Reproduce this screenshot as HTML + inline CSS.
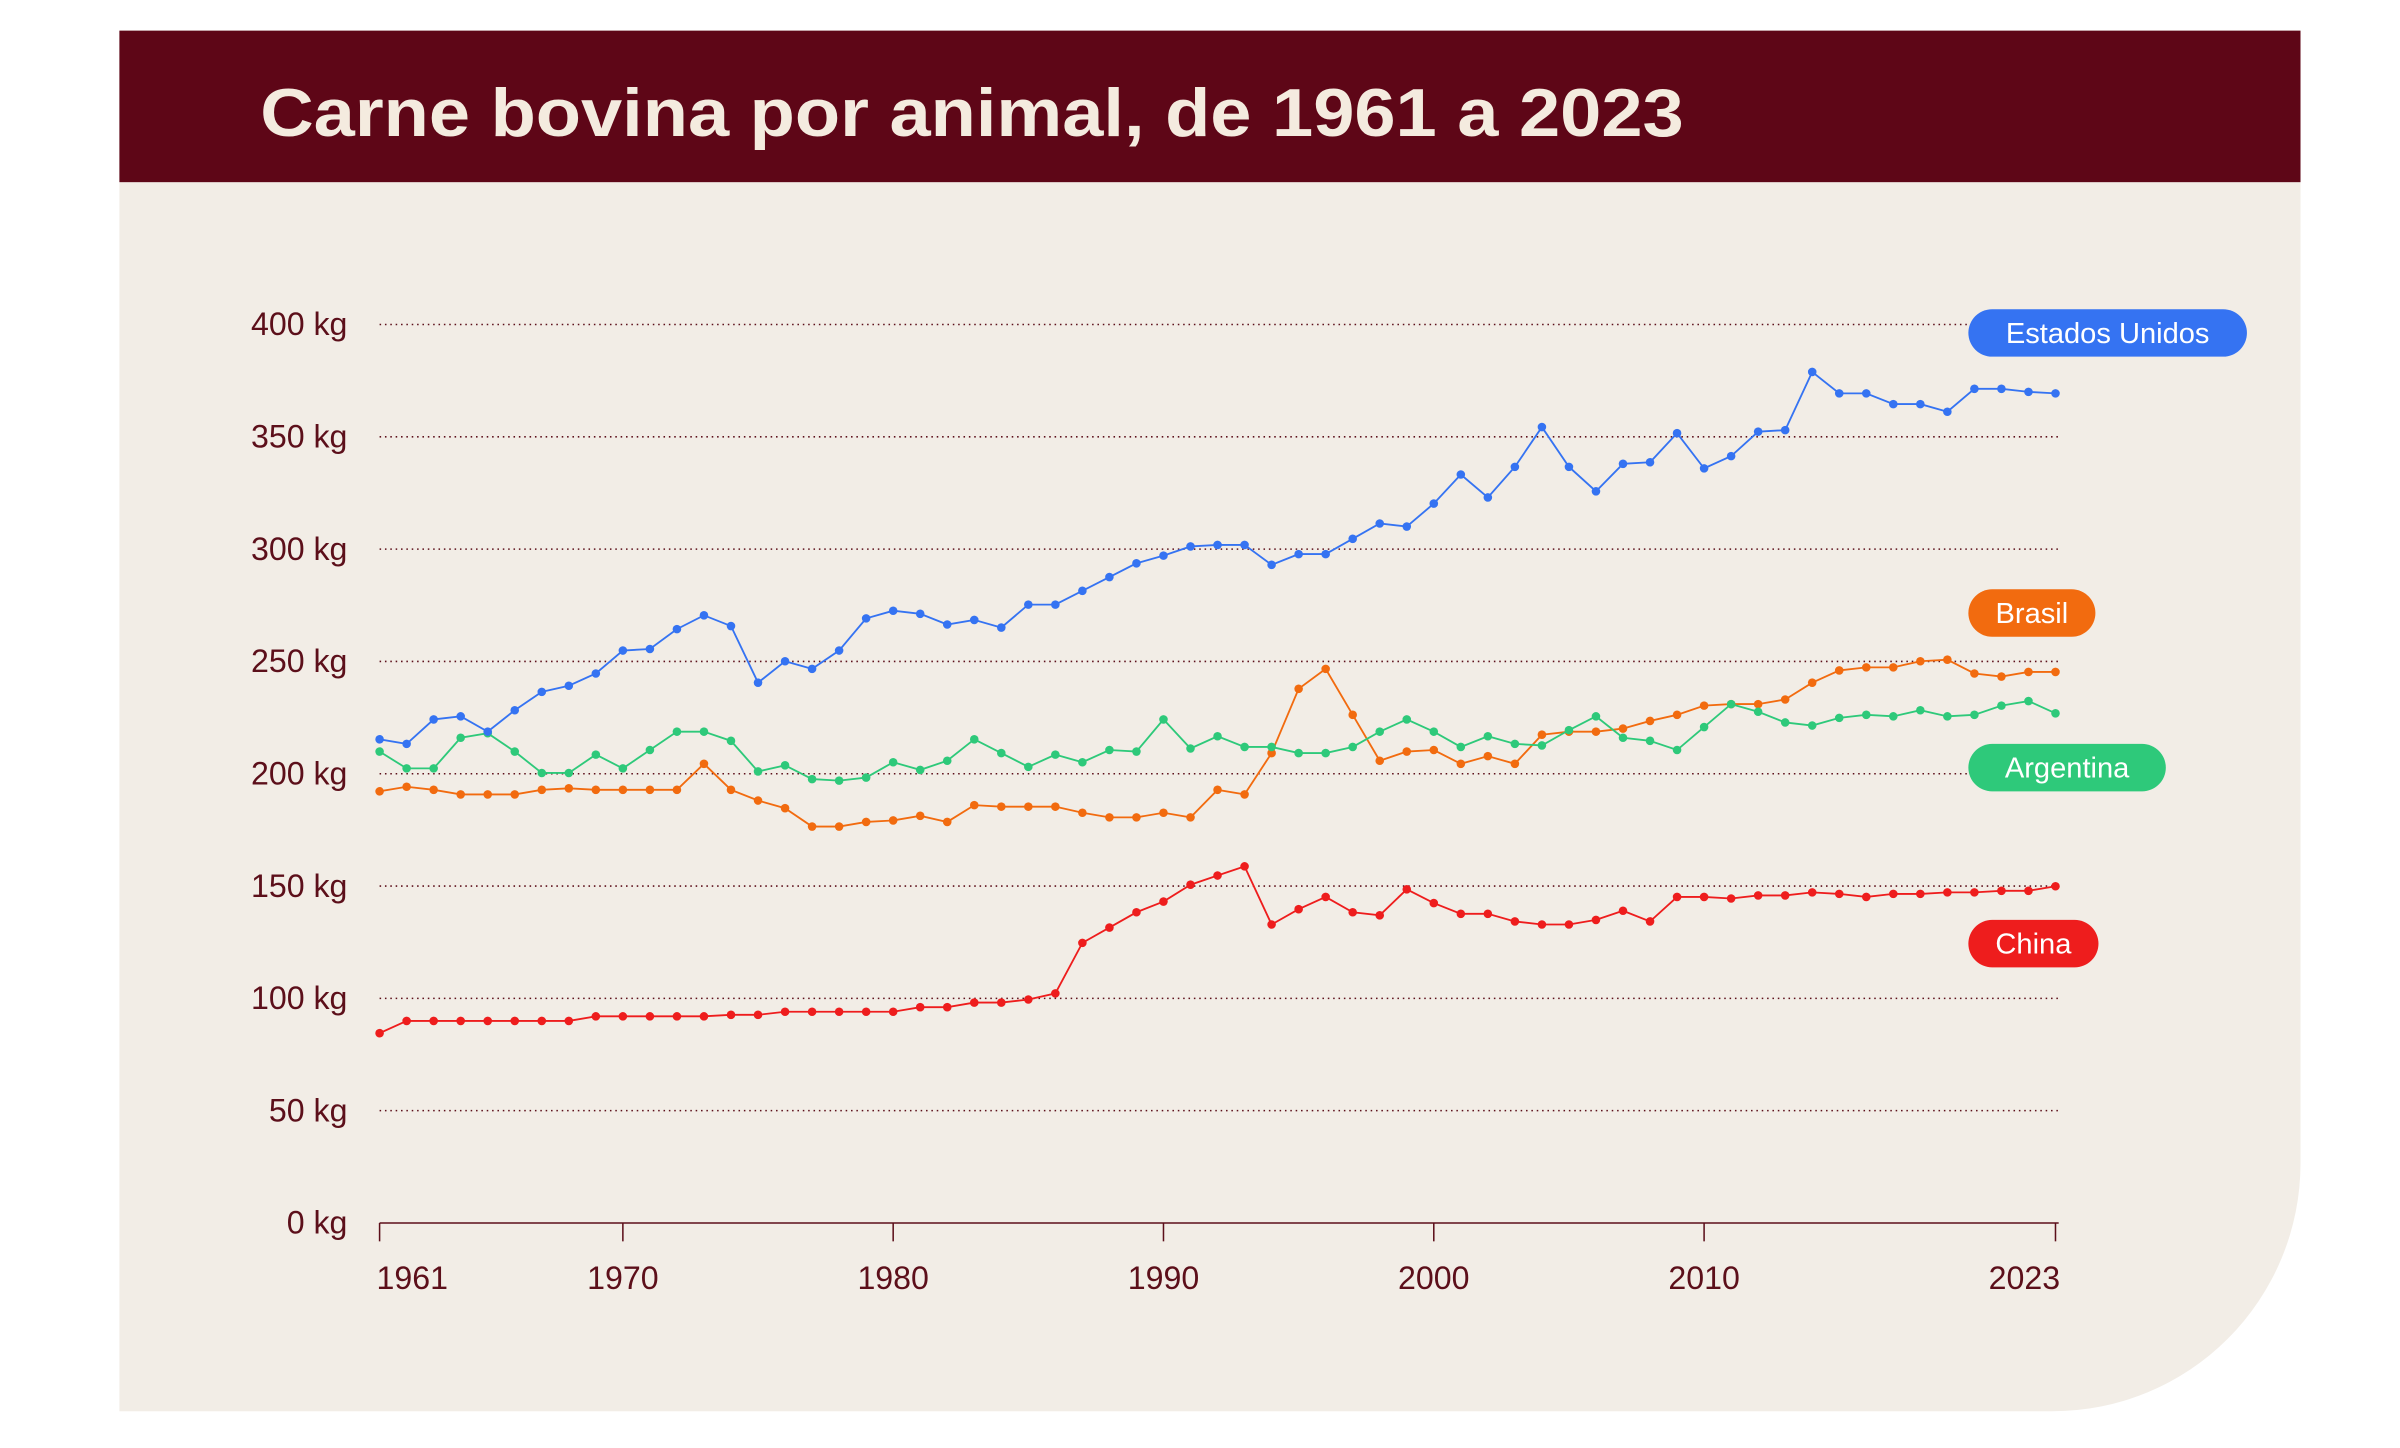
<!DOCTYPE html>
<html><head><meta charset="utf-8"><style>
html,body{margin:0;padding:0;background:#fff;}
svg{display:block;}
text{font-family:"Liberation Sans",sans-serif;}
</style></head><body>
<svg id="s" width="2400" height="1448" viewBox="0 0 1568 946" xmlns="http://www.w3.org/2000/svg">
<path d="M78 20 H1503 V760 A162 162 0 0 1 1341 922 H78 Z" fill="#f2ede6"/>
<rect x="78" y="20" width="1425" height="99" fill="#5e0617"/>
<text x="170" y="89" font-size="44" font-weight="bold" fill="#f4ebdf" textLength="930" lengthAdjust="spacingAndGlyphs">Carne bovina por animal, de 1961 a 2023</text>
<g id="grid"></g>
<g id="series"></g>
<g id="leg"></g>
</svg>
<script>
var NS="http://www.w3.org/2000/svg",s=document.getElementById('s');
function el(t,a,p,txt){var e=document.createElementNS(NS,t);for(var k in a)e.setAttribute(k,a[k]);if(txt)e.textContent=txt;(p||s).appendChild(e);return e;}
var g=document.getElementById('grid');
var mar="#5c0f1a";
for(var v=0;v<=400;v+=50){var y=799-v*1.4675;
 if(v>0)el('line',{x1:248,x2:1345,y1:y,y2:y,stroke:mar,'stroke-width':1,'stroke-dasharray':'1 2.5'},g);
 el('text',{x:227,y:y+7,'font-size':21,fill:mar,'text-anchor':'end'},g,v+' kg');}
el('line',{x1:248,x2:1345,y1:799,y2:799,stroke:mar,'stroke-width':1},g);
var ticks=[[1961,'start'],[1970,'middle'],[1980,'middle'],[1990,'middle'],[2000,'middle'],[2010,'middle'],[2023,'end']];
ticks.forEach(function(t){var x=248+(t[0]-1961)*17.66;el('line',{x1:x,x2:x,y1:799,y2:811,stroke:mar,'stroke-width':1},g);
 var tx=t[1]=='start'?x-2:(t[1]=='end'?x+3:x);
 el('text',{x:tx,y:842,'font-size':21,fill:mar,'text-anchor':t[1]},g,''+t[0]);});
var data={
"#ee1d1d":[675,667,667,667,667,667,667,667,664,664,664,664,664,663,663,661,661,661,661,661,658,658,655,655,653,649,616,606,596,589,578,572,566,604,594,586,596,598,581,590,597,597,602,604,604,601,595,602,586,586,587,585,585,583,584,586,584,584,583,583,582,582,579],
"#f26b0f":[517,514,516,519,519,519,516,515,516,516,516,516,499,516,523,528,540,540,537,536,533,537,526,527,527,527,531,534,534,531,534,516,519,492,450,437,467,497,491,490,499,494,499,480,478,478,476,471,467,461,460,460,457,446,438,436,436,432,431,440,442,439,439],
"#2ec97a":[491,502,502,482,479,491,505,505,493,502,490,478,478,484,504,500,509,510,508,498,503,497,483,492,501,493,498,490,491,470,489,481,488,488,492,492,488,478,470,478,488,481,486,487,477,468,482,484,490,475,460,465,472,474,469,467,468,464,468,467,461,458,466],
"#3573f2":[483,486,470,468,478,464,452,448,440,425,424,411,402,409,446,432,437,425,404,399,401,408,405,410,395,395,386,377,368,363,357,356,356,369,362,362,352,342,344,329,310,325,305,279,305,321,303,302,283,306,298,282,281,243,257,257,264,264,269,254,254,256,257]};
var sg=document.getElementById('series');
for(var c in data){var pts=data[c].map(function(y,i){return (248+i*17.66).toFixed(2)+','+y;});
 el('polyline',{points:pts.join(' '),fill:'none',stroke:c,'stroke-width':1.2},sg);
 data[c].forEach(function(y,i){el('circle',{cx:248+i*17.66,cy:y,r:2.8,fill:c},sg);});}
var lg=document.getElementById('leg');
[["Estados Unidos","#3573f2",202,182],["Brasil","#f26b0f",385,83],["Argentina","#2ec97a",486,129],["China","#ee1d1d",601,85]].forEach(function(l){
 el('rect',{x:1286,y:l[2],width:l[3],height:31,rx:15.5,fill:l[1]},lg);
 el('text',{x:1286+l[3]/2,y:l[2]+22,'font-size':19,fill:'#fff','text-anchor':'middle'},lg,l[0]);});
</script>
</body></html>
